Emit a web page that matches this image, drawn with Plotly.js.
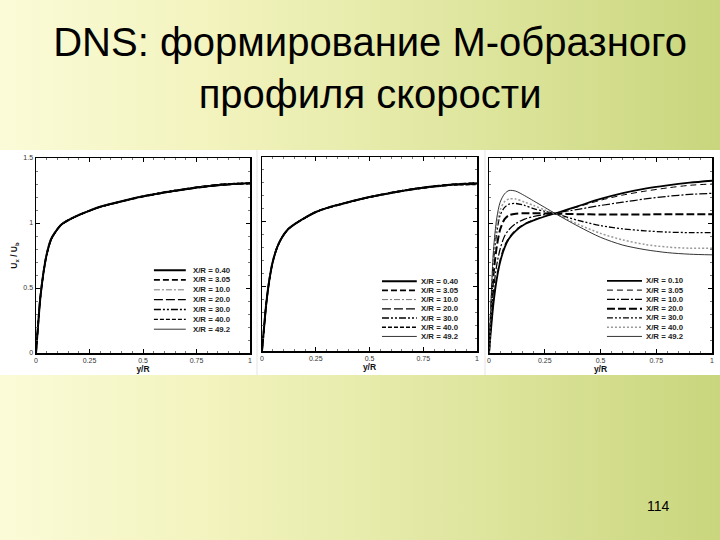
<!DOCTYPE html>
<html>
<head>
<meta charset="utf-8">
<script src="https://cdn.plot.ly/plotly-3.0.1.min.js"></script>
<style>
  html, body { margin:0; padding:0; }
  body { width:720px; height:540px; overflow:hidden;
    background: linear-gradient(to right, #fbfbd8 0%, #f2f3bd 30%, #dfe69f 65%, #c9d67d 100%); }
  #chart { width:720px; height:540px; }
</style>
</head>
<body>
<div id="chart"></div>
<script>
// ---------------- data ----------------
const titleText = "DNS: формирование М-образного<br>профиля скорости";
const pageNumber = "114";
const xTitle = "y/R";
const yTitle = "U<sub>x</sub> / U<sub>b</sub>";
const xTickVals = [0, 0.25, 0.5, 0.75, 1];
const xTickText = ["0", "0.25", "0.5", "0.75", "1"];
const yTickVals = [0, 0.5, 1, 1.5];
const yTickText = ["0", "0.5", "1", "1.5"];

const yR = [0, 0.01, 0.02, 0.035, 0.05, 0.07, 0.09, 0.12, 0.16, 0.2, 0.25, 0.3, 0.4, 0.5, 0.6, 0.7, 0.8, 0.9, 1.0];

const labels12 = ["X/R = 0.40", "X/R = 3.05", "X/R = 10.0", "X/R = 20.0", "X/R = 30.0", "X/R = 40.0", "X/R = 49.2"];
const labels3  = ["X/R = 0.10", "X/R = 3.05", "X/R = 10.0", "X/R = 20.0", "X/R = 30.0", "X/R = 40.0", "X/R = 49.2"];

// Panel 1
const p1_x040 = [0,0.22,0.42,0.62,0.76,0.875,0.93,0.99,1.03,1.062,1.095,1.125,1.168,1.205,1.235,1.26,1.282,1.298,1.305];
const p1_x305 = [0,0.22,0.43,0.62,0.76,0.87,0.93,0.99,1.03,1.06,1.094,1.124,1.166,1.203,1.234,1.262,1.285,1.3,1.303];
const p1_x100 = [0,0.23,0.43,0.63,0.765,0.875,0.935,0.992,1.032,1.062,1.096,1.126,1.167,1.206,1.238,1.265,1.284,1.296,1.3];
const p1_x200 = [0,0.22,0.42,0.62,0.76,0.87,0.928,0.988,1.028,1.059,1.093,1.123,1.165,1.204,1.236,1.258,1.278,1.294,1.302];
const p1_x300 = [0,0.22,0.42,0.615,0.755,0.868,0.928,0.988,1.029,1.061,1.095,1.125,1.167,1.207,1.239,1.264,1.286,1.302,1.308];
const p1_x400 = [0,0.215,0.415,0.615,0.755,0.87,0.93,0.99,1.03,1.06,1.094,1.124,1.166,1.204,1.233,1.259,1.283,1.299,1.304];
const p1_x492 = [0,0.22,0.42,0.62,0.76,0.872,0.932,0.99,1.031,1.062,1.096,1.126,1.168,1.206,1.237,1.263,1.281,1.297,1.306];

// Panel 2
const p2_x040 = [0,0.19,0.37,0.56,0.69,0.8,0.87,0.94,0.99,1.03,1.075,1.105,1.15,1.19,1.222,1.25,1.272,1.288,1.295];
const p2_x305 = [0,0.19,0.37,0.56,0.69,0.8,0.87,0.94,0.99,1.03,1.074,1.104,1.149,1.19,1.224,1.252,1.274,1.29,1.298];
const p2_x100 = [0,0.2,0.38,0.57,0.7,0.805,0.872,0.942,0.992,1.031,1.076,1.106,1.151,1.191,1.222,1.248,1.268,1.282,1.287];
const p2_x200 = [0,0.19,0.37,0.555,0.685,0.797,0.868,0.938,0.989,1.029,1.074,1.104,1.149,1.188,1.22,1.247,1.27,1.285,1.29];
const p2_x300 = [0,0.19,0.37,0.56,0.69,0.8,0.87,0.94,0.99,1.03,1.075,1.105,1.151,1.192,1.225,1.254,1.276,1.291,1.299];
const p2_x400 = [0,0.185,0.365,0.555,0.688,0.8,0.87,0.94,0.99,1.03,1.075,1.105,1.15,1.189,1.221,1.249,1.271,1.284,1.286];
const p2_x492 = [0,0.19,0.37,0.56,0.69,0.802,0.872,0.941,0.991,1.031,1.076,1.106,1.152,1.191,1.223,1.251,1.273,1.289,1.293];

// Panel 3 (M-shaped profile formation)
const p3_x010 = [0,0.2,0.38,0.57,0.7,0.81,0.88,0.94,0.99,1.02,1.05,1.075,1.13,1.185,1.23,1.265,1.29,1.31,1.325];
const p3_x305 = [0,0.21,0.4,0.59,0.72,0.83,0.89,0.95,0.995,1.025,1.052,1.075,1.125,1.175,1.215,1.245,1.27,1.29,1.3];
const p3_x100 = [0,0.26,0.48,0.68,0.8,0.9,0.95,0.995,1.03,1.05,1.065,1.078,1.105,1.135,1.16,1.185,1.205,1.22,1.228];
const p3_x200 = [0,0.33,0.6,0.82,0.95,1.03,1.06,1.072,1.075,1.075,1.074,1.072,1.068,1.066,1.066,1.066,1.067,1.067,1.067];
const p3_x300 = [0,0.38,0.7,0.93,1.06,1.12,1.145,1.15,1.135,1.11,1.09,1.07,1.02,0.98,0.955,0.94,0.93,0.926,0.926];
const p3_x400 = [0,0.4,0.74,0.98,1.1,1.165,1.185,1.185,1.16,1.135,1.1,1.07,0.99,0.92,0.87,0.835,0.815,0.806,0.805];
const p3_x492 = [0,0.43,0.79,1.04,1.16,1.225,1.25,1.245,1.21,1.17,1.12,1.07,0.975,0.89,0.83,0.795,0.772,0.76,0.755];

// ---------------- styles ----------------
const styles12 = [
  {dash:'solid', width:2.0, color:'#000'},
  {dash:'6px,3px', width:1.8, color:'#000'},
  {dash:'6px,2px,2px,2px', width:1.0, color:'#777'},
  {dash:'9px,3px', width:1.2, color:'#000'},
  {dash:'7px,2px,2px,2px,2px,2px', width:1.3, color:'#000'},
  {dash:'4px,2px', width:1.3, color:'#000'},
  {dash:'solid', width:0.8, color:'#000'}
];
const styles3 = [
  {dash:'solid', width:1.8, color:'#000'},
  {dash:'6px,4px', width:1.0, color:'#000'},
  {dash:'8px,2px,2px,2px', width:1.2, color:'#000'},
  {dash:'8px,3px', width:2.0, color:'#000'},
  {dash:'6px,2px,2px,2px,2px,2px', width:1.3, color:'#000'},
  {dash:'2px,2px', width:1.5, color:'#999'},
  {dash:'solid', width:0.8, color:'#000'}
];

const panels = [
  {series:[p1_x040,p1_x305,p1_x100,p1_x200,p1_x300,p1_x400,p1_x492], labels:labels12, styles:styles12,
   dom:[36,250,158,353], leg:{x0:0.551, x1:0.70, tx:0.725, y0:0.425, dy:0.0505}},
  {series:[p2_x040,p2_x305,p2_x100,p2_x200,p2_x300,p2_x400,p2_x492], labels:labels12, styles:styles12,
   dom:[262,477,157,351], leg:{x0:0.558, x1:0.72, tx:0.73, y0:0.36, dy:0.0475}},
  {series:[p3_x010,p3_x305,p3_x100,p3_x200,p3_x300,p3_x400,p3_x492], labels:labels3, styles:styles3,
   dom:[489,712,158,353], leg:{x0:0.529, x1:0.686, tx:0.695, y0:0.37, dy:0.0475}}
];

const W = 720, H = 540;
const FONT = '"Liberation Sans", Arial, Helvetica, sans-serif';
const traces = [];
const shapes = [];
const annotations = [];
const layout = {
  width: W, height: H,
  margin: {l:0, r:0, t:0, b:0},
  paper_bgcolor: 'rgba(0,0,0,0)',
  plot_bgcolor: '#ffffff',
  showlegend: false,
  font: {family: FONT, color: '#000'},
  title: {text: titleText, x: 0.514, xanchor: 'center', xref: 'paper',
          y: 1 - 56/H, yanchor: 'top', yref: 'container',
          font: {size: 40, family: FONT, color: '#000'}},
};

// white picture background and separators
shapes.push({type:'rect', xref:'paper', yref:'paper', x0:0, x1:1, y0:1-375/H, y1:1-150/H,
             fillcolor:'#ffffff', line:{width:0}, layer:'below'});
[257, 485].forEach(px => shapes.push({type:'line', xref:'paper', yref:'paper', x0:px/W, x1:px/W,
             y0:1-375/H, y1:1-150/H, line:{color:'#e4e4e4', width:1}, layer:'below'}));

panels.forEach((p, i) => {
  const n = i + 1;
  const xa = 'x' + (n === 1 ? '' : n), ya = 'y' + (n === 1 ? '' : n);
  const xk = 'xaxis' + (n === 1 ? '' : n), yk = 'yaxis' + (n === 1 ? '' : n);
  p.series.forEach((s, j) => {
    traces.push({x: yR, y: s, type:'scatter', mode:'lines', xaxis: xa, yaxis: ya,
      name: p.labels[j], line:{color:p.styles[j].color, width:p.styles[j].width, dash:p.styles[j].dash,
      shape:'spline', smoothing:0.8}, hoverinfo:'skip'});
  });
  const [l, r, t, b] = p.dom;
  layout[xk] = {
    domain:[l/W, r/W], anchor: ya, range:[0, 1],
    tickvals: xTickVals, ticktext: xTickText,
    ticks:'inside', ticklen:4, tickwidth:1, tickcolor:'#000',
    minor:{dtick:0.05, ticks:'inside', ticklen:2, tickcolor:'#555', tickwidth:0.8},
    showline:true, linecolor:'#000', linewidth:1.5, mirror:'allticks',
    showgrid:false, zeroline:false,
    tickfont:{size:7, color:'#333', family:FONT},
    title:{text:'<b>' + xTitle + '</b>', font:{size:8.5, color:'#111', family:FONT}, standoff:1}
  };
  const yax = {
    domain:[1-b/H, 1-t/H], anchor: xa, range:[0, 1.5],
    tickvals: yTickVals, ticktext: yTickText, showticklabels: n === 1,
    ticks:'inside', ticklen:4, tickwidth:1, tickcolor:'#000',
    minor:{dtick:0.1, ticks:'inside', ticklen:2, tickcolor:'#555', tickwidth:0.8},
    showline:true, linecolor:'#000', linewidth:1.5, mirror:'allticks',
    showgrid:false, zeroline:false,
    tickfont:{size:7, color:'#333', family:FONT}
  };
  if (n === 1) yax.title = {text:'<b>' + yTitle + '</b>', font:{size:8.5, color:'#111', family:FONT}, standoff:4};
  layout[yk] = yax;
  // in-plot legend built from labels and styles
  p.labels.forEach((lab, j) => {
    const yy = p.leg.y0 - j * p.leg.dy;
    shapes.push({type:'line', xref: xa + ' domain', yref: ya + ' domain',
      x0:p.leg.x0, x1:p.leg.x1, y0:yy, y1:yy,
      line:{color:p.styles[j].color, width:p.styles[j].width, dash:p.styles[j].dash}});
    annotations.push({xref: xa + ' domain', yref: ya + ' domain', x:p.leg.tx, y:yy,
      xanchor:'left', yanchor:'middle', showarrow:false, text:'<b>' + lab + '</b>',
      font:{size:7.8, color:'#222', family:FONT}});
  });
});

annotations.push({xref:'paper', yref:'paper', x:658/W, y:1-506/H, xanchor:'center', yanchor:'middle',
  showarrow:false, text:pageNumber, font:{size:14, color:'#000', family:FONT}});

layout.shapes = shapes;
layout.annotations = annotations;

Plotly.newPlot('chart', traces, layout, {staticPlot:true, displayModeBar:false});
</script>
</body>
</html>
